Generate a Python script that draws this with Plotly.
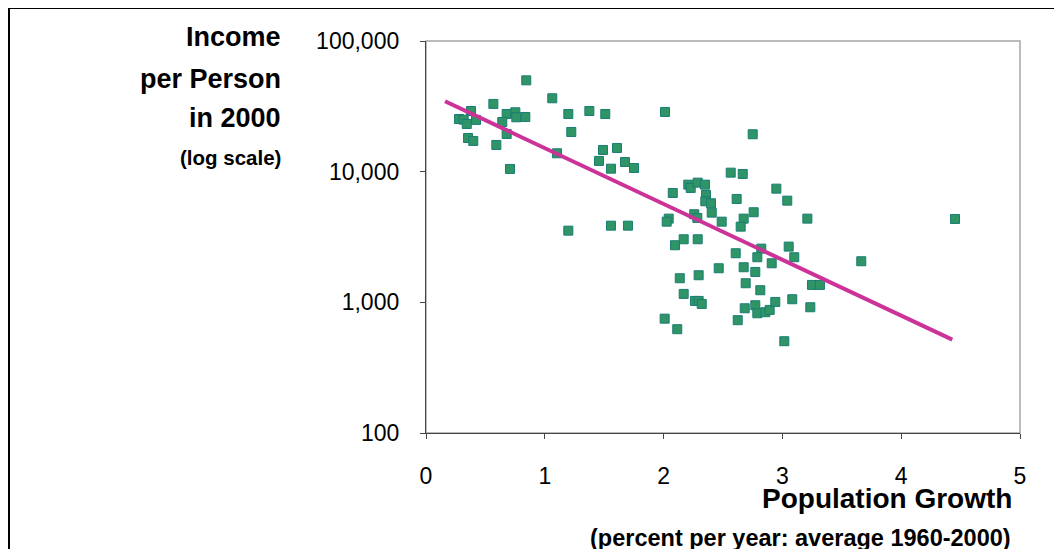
import plotly.graph_objects as go

# ---- data ----
pop_growth = [
    0.844, 1.063, 0.567, 0.379, 0.278, 0.317, 0.343, 0.421, 0.679, 0.752,
    0.760, 0.836, 0.642, 1.198, 1.375, 1.509, 2.012, 1.223, 0.354, 0.398,
    0.679, 0.592, 1.103, 1.490, 1.608, 1.456, 1.557, 1.675, 1.751, 0.707,
    2.077, 1.198, 1.557, 1.700,
    2.750, 2.565, 2.666, 2.208, 2.228, 2.287, 2.348, 2.357, 2.351, 2.399,
    2.615, 2.949, 3.041, 2.405, 2.043, 2.026, 2.258, 2.284, 2.489, 2.758,
    2.674, 2.649, 3.210, 2.169, 2.096, 2.287, 2.822, 3.053, 2.607, 2.789,
    3.100, 2.910, 3.664, 2.464, 2.674, 2.772, 2.136, 2.295, 2.691, 3.249,
    3.316, 2.814, 2.169, 2.264, 2.295, 2.321, 2.683, 2.772, 2.789, 2.856,
    2.893, 2.940, 3.083, 3.235, 2.009, 2.115, 2.624, 3.016, 4.453,
]
income_2000 = [
    50000, 36450, 33000, 29130, 25300, 25000, 23170, 24900, 27640, 28480,
    26070, 26220, 23990, 27640, 29130, 27640, 28630, 20130, 18100, 17180,
    19430, 16010, 13830, 14660, 15180, 12080, 10540, 11860, 10670, 10490,
    6870, 3537, 3862, 3862,
    19330, 9824, 9600, 7954, 7505, 8240, 7954, 6632, 5935, 5730,
    6180, 7413, 6000, 4858, 4370, 4144, 4723, 4424, 4144, 4892,
    4370, 3795, 4370, 3039, 2735, 3039, 2576, 2669, 2375, 2214,
    2214, 1991, 2063, 1823, 1856, 1708, 1529, 1612, 1400, 1359,
    1359, 1238, 1160, 1025, 1025, 972, 901, 950, 825, 840,
    875, 1007, 1056, 917, 750, 623, 730, 504, 4345,
]
trend_x = [0.16, 4.43]
trend_y = [34600, 518]

y_tickvals = [100, 1000, 10000, 100000]
y_ticktext = ["100", "1,000", "10,000", "100,000"]
x_tickvals = [0, 1, 2, 3, 4, 5]

# ---- layout geometry (pixels, page coordinates; page body has an 8px margin) ----
OFF = 8
W, H = 1062 - OFF, 549 - OFF
PL, PR, PT, PB = 426, 1020, 41, 433          # plot area on the page
L, R, T, B = PL - OFF, (OFF + W) - PR, PT - OFF, (OFF + H) - PB
PW, PH = PR - PL, PB - PT


def px(x):
    return (x - PL) / PW


def py(y):
    return (PB - y) / PH


FONT = "Liberation Sans, Arial, sans-serif"

fig = go.Figure()
fig.add_trace(go.Scatter(
    x=pop_growth, y=income_2000, mode="markers",
    marker=dict(symbol="square", size=9, color="#2f9466",
                line=dict(color="#1a7d74", width=1)),
    showlegend=False, hoverinfo="x+y",
))
fig.add_trace(go.Scatter(
    x=trend_x, y=trend_y, mode="lines",
    line=dict(color="#cc3399", width=4),
    showlegend=False, hoverinfo="skip",
))

shapes = [
    # plot-area frame (grey, top/right)
    dict(type="rect", xref="paper", yref="paper", x0=0, x1=1, y0=0, y1=1,
         line=dict(color="#a6a6a6", width=1.5), layer="below"),
    # outer figure border (black, top and left)
    dict(type="line", xref="paper", yref="paper", x0=px(OFF + 0.5), x1=px(OFF + W + 5),
         y0=py(OFF - 0.5), y1=py(OFF - 0.5), line=dict(color="black", width=3)),
    dict(type="line", xref="paper", yref="paper", x0=px(OFF + 0.5), x1=px(OFF + 0.5),
         y0=py(OFF - 1), y1=py(OFF + H + 5), line=dict(color="black", width=3)),
]

annotations = []
for text, yc, size in [("Income", 37, 27), ("per Person", 79, 27),
                       ("in 2000", 118, 27), ("(log scale)", 157, 20.5)]:
    annotations.append(dict(
        text="<b>%s</b>" % text, xref="paper", yref="paper",
        x=px(283), y=py(yc), xanchor="right", yanchor="middle",
        showarrow=False, font=dict(family=FONT, size=size, color="black")))
annotations.append(dict(
    text="<b>Population Growth</b>", xref="paper", yref="paper",
    x=px(1014), y=py(498), xanchor="right", yanchor="middle",
    showarrow=False, font=dict(family=FONT, size=28, color="black")))
annotations.append(dict(
    text="<b>(percent per year: average 1960-2000)</b>", xref="paper", yref="paper",
    x=px(1013), y=py(538), xanchor="right", yanchor="middle",
    showarrow=False, font=dict(family=FONT, size=23.5, color="black")))

fig.update_layout(
    width=W, height=H,
    margin=dict(l=L, r=R, t=T, b=B, pad=0),
    paper_bgcolor="white", plot_bgcolor="white",
    font=dict(family=FONT, color="black"),
    shapes=shapes, annotations=annotations,
    xaxis=dict(range=[0, 5], tickvals=x_tickvals, ticks="outside", ticklen=5,
               tickcolor="#444", showline=True, linecolor="#444", linewidth=1.3,
               showgrid=False, zeroline=False, tickfont=dict(size=23, color="black"),
               ticklabelstandoff=17, fixedrange=True),
    yaxis=dict(type="log", range=[2, 5], tickvals=y_tickvals, ticktext=y_ticktext,
               ticks="outside", ticklen=5, tickcolor="#444", showline=True,
               linecolor="#444", linewidth=1.3, showgrid=False, zeroline=False,
               tickfont=dict(size=23, color="black"), ticklabelstandoff=16,
               fixedrange=True),
)

fig.write_html("out.html")
